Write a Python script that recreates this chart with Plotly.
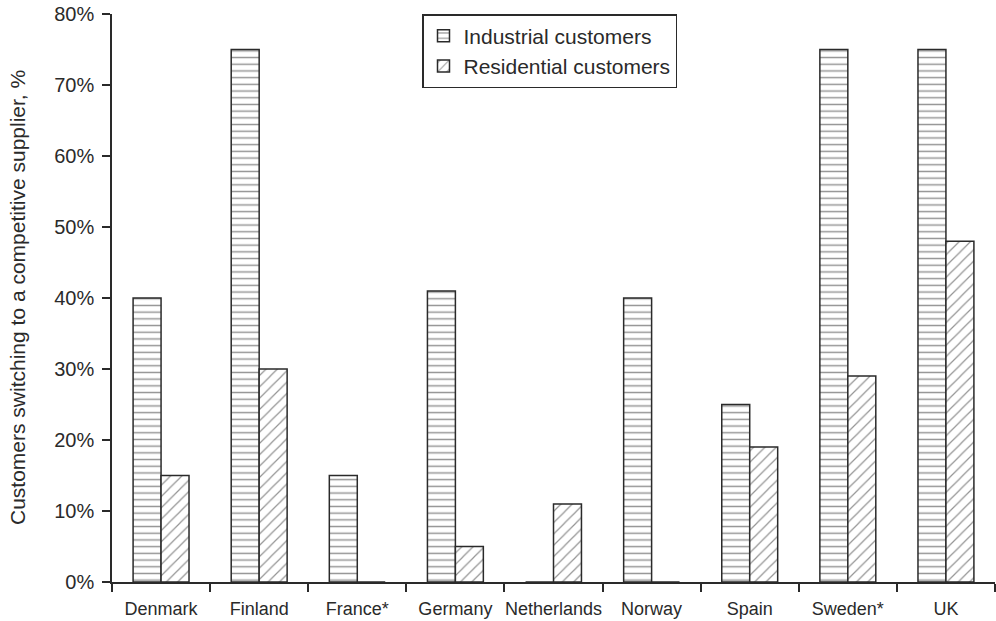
import plotly.graph_objects as go

countries = ["Denmark", "Finland", "France*", "Germany", "Netherlands", "Norway", "Spain", "Sweden*", "UK"]
industrial = [40, 75, 15, 41, 0, 40, 25, 75, 75]
residential = [15, 30, 0, 5, 11, 0, 19, 29, 48]
y_ticks = [0, 10, 20, 30, 40, 50, 60, 70, 80]
y_tick_labels = [f"{v}%" for v in y_ticks]

FONT = "Liberation Sans, Arial, Helvetica, sans-serif"
INK = "#2a2a2a"

L, R, T, B = 112, 1, 14, 39
W, H = 996, 621
PW = W - L - R

fig = go.Figure()
fig.add_trace(go.Bar(
    name="Industrial customers", x=countries, y=industrial,
    marker=dict(color="white", line=dict(color=INK, width=1.5),
                pattern=dict(shape="-", size=6.7, solidity=0.22, fgcolor=INK, bgcolor="white")),
))
fig.add_trace(go.Bar(
    name="Residential customers", x=countries, y=residential,
    marker=dict(color="white", line=dict(color=INK, width=1.5),
                pattern=dict(shape="/", size=8, solidity=0.15, fgcolor=INK, bgcolor="white")),
))

fig.update_layout(
    width=W, height=H,
    margin=dict(l=L, r=R, t=T, b=B, autoexpand=False),
    paper_bgcolor="white", plot_bgcolor="white",
    barmode="group", bargap=0.43, bargroupgap=0,
    font=dict(family=FONT, color=INK),
    showlegend=True,
    legend=dict(x=(422 - L) / PW, y=1.0, xanchor="left", yanchor="top",
                bordercolor=INK, borderwidth=1.5, bgcolor="white",
                font=dict(size=21, family=FONT, color=INK),
                tracegroupgap=0),
    xaxis=dict(showline=True, linecolor=INK, linewidth=1.5, automargin=False,
               ticks="outside", tickson="boundaries", ticklen=8, tickcolor=INK, tickwidth=1.5,
               tickangle=0, ticklabelstandoff=10,
               tickfont=dict(size=18, family=FONT, color=INK),
               showgrid=False, zeroline=False),
    yaxis=dict(range=[0, 80], tickmode="array", tickvals=y_ticks, ticktext=y_tick_labels,
               showline=True, linecolor=INK, linewidth=1.5, automargin=False,
               ticks="outside", ticklen=8, tickcolor=INK, tickwidth=1.5,
               ticklabelstandoff=4,
               tickfont=dict(size=20, family=FONT, color=INK),
               showgrid=False, zeroline=False),
    annotations=[dict(text="Customers switching to a competitive supplier, %",
                      xref="paper", yref="paper", x=-(L - 17) / PW, y=0.5,
                      xanchor="center", yanchor="middle", textangle=-90, showarrow=False,
                      font=dict(size=21, family=FONT, color=INK))],
)

# remove the browser's default 8px body margin so the figure sits at the page origin
fig.write_html("out.html", config={"displayModeBar": False},
               post_script="document.body.style.margin='0';")
